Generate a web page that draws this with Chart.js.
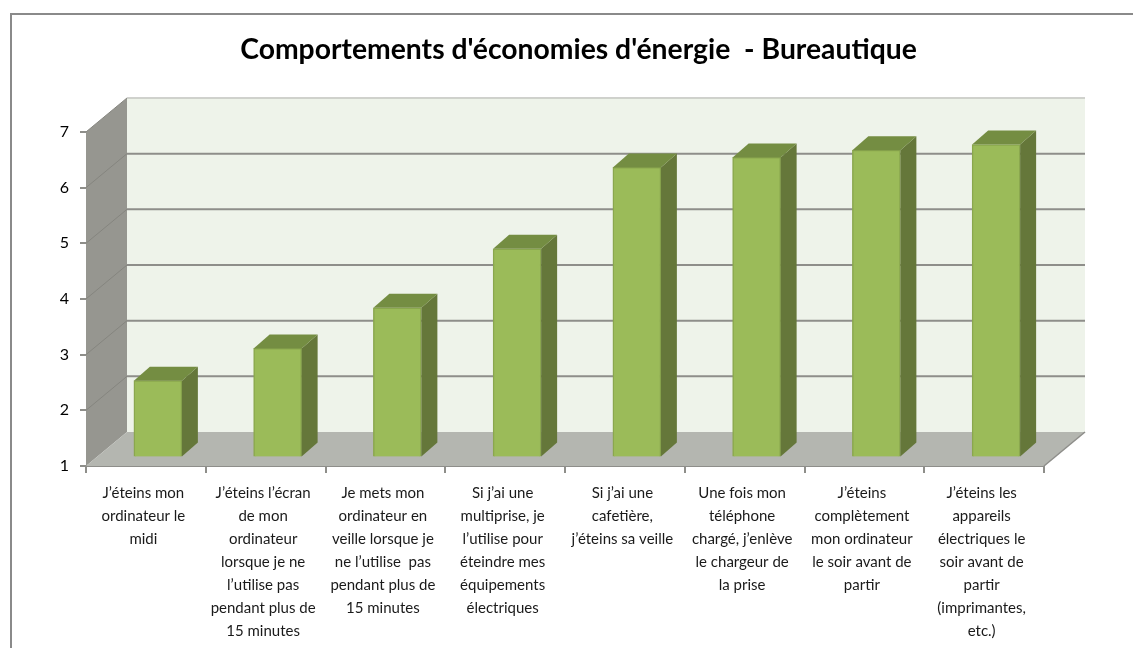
<!DOCTYPE html>
<html><head><meta charset="utf-8">
<style>html,body{margin:0;padding:0;background:#fff}canvas{display:block}</style>
<script src="https://cdn.jsdelivr.net/npm/chart.js@4"></script>
</head><body>
<div style="width:1133px;height:648px;position:relative"><canvas id="c" width="1133" height="648"></canvas></div>
<script>
const titleText = "Comportements d'économies d'énergie  - Bureautique";
const categories = [
 ["J’éteins mon","ordinateur le","midi"],
 ["J’éteins l’écran","de mon","ordinateur","lorsque je ne","l’utilise pas","pendant plus de","15 minutes"],
 ["Je mets mon","ordinateur en","veille lorsque je","ne l’utilise  pas","pendant plus de","15 minutes"],
 ["Si j’ai une","multiprise, je","l’utilise pour","éteindre mes","équipements","électriques"],
 ["Si j’ai une","cafetière,","j’éteins sa veille"],
 ["Une fois mon","téléphone","chargé, j’enlève","le chargeur de","la prise"],
 ["J’éteins","complètement","mon ordinateur","le soir avant de","partir"],
 ["J’éteins les","appareils","électriques le","soir avant de","partir","(imprimantes,","etc.)"]
];
const values = [2.38, 2.96, 3.69, 4.75, 6.21, 6.39, 6.52, 6.62];

const FONT = "Lato, Carlito, sans-serif";
const WALL = {dx:41, dy:-34};
const BAR = {fx:12, fy:-8.5, dx:16, dy:-14};

const scene = {
  id:'scene',
  beforeDraw(chart){
    const c=chart.ctx;
    c.save();
    c.strokeStyle='#8a8a8a'; c.lineWidth=2;
    c.beginPath(); c.moveTo(11,648); c.lineTo(11,14); c.lineTo(1133,14); c.stroke();
    c.restore();
  },
  beforeDatasetsDraw(chart){
    const c=chart.ctx, a=chart.chartArea, y=chart.scales.y;
    const l=a.left,r=a.right,t=a.top,b=a.bottom,dx=WALL.dx,dy=WALL.dy;
    c.save();
    c.fillStyle='#eef3ea';
    c.fillRect(l+dx,t+dy,r-l,b-t);
    c.fillStyle='#969690';
    c.beginPath();c.moveTo(l,t);c.lineTo(l+dx,t+dy);c.lineTo(l+dx,b+dy);c.lineTo(l,b);c.closePath();c.fill();
    c.fillStyle='#b4b6b0';
    c.beginPath();c.moveTo(l,b);c.lineTo(l+dx,b+dy);c.lineTo(r+dx,b+dy);c.lineTo(r,b);c.closePath();c.fill();
    y.ticks.forEach(tk=>{
      const p=y.getPixelForValue(tk.value);
      if(tk.value>1){
        c.strokeStyle='#85857f';c.lineWidth=1;
        c.beginPath();c.moveTo(l,p);c.lineTo(l+dx,p+dy);c.stroke();
        c.strokeStyle=tk.value===7?'#a9aba5':'#8e8e8a';c.lineWidth=tk.value===7?1:2;
        c.beginPath();c.moveTo(l+dx,p+dy);c.lineTo(r+dx,p+dy);c.stroke();
      }
    });
    c.strokeStyle='#8e8e8a';c.lineWidth=1.5;
    c.beginPath();c.moveTo(r,b);c.lineTo(r+dx,b+dy);c.stroke();
    c.restore();
  },
  beforeDatasetDraw(chart){
    chart.ctx.save();
    chart.ctx.translate(BAR.fx,BAR.fy);
  },
  afterDatasetDraw(chart,args){
    const c=chart.ctx;
    args.meta.data.forEach(el=>{
      const x0=el.x-el.width/2,x1=el.x+el.width/2,top=el.y,base=el.base,dx=BAR.dx,dy=BAR.dy;
      c.fillStyle='#65773a';
      c.beginPath();c.moveTo(x1,top);c.lineTo(x1+dx,top+dy);c.lineTo(x1+dx,base+dy);c.lineTo(x1,base);c.closePath();c.fill();
      c.fillStyle='#748d42';
      c.beginPath();c.moveTo(x0,top);c.lineTo(x0+dx,top+dy);c.lineTo(x1+dx,top+dy);c.lineTo(x1,top);c.closePath();c.fill();
    });
    c.restore();
  }
};

new Chart(document.getElementById('c'),{
  type:'bar',
  data:{labels:categories,datasets:[{data:values,base:1,backgroundColor:'#9bbb59',borderColor:'#8aa74e',borderWidth:1.5,barThickness:48,clip:false}]},
  plugins:[scene],
  options:{
    responsive:false,animation:false,
    layout:{padding:{left:24,right:0,top:33,bottom:0}},
    plugins:{
      legend:{display:false},tooltip:{enabled:false},
      title:{display:true,text:titleText,color:'#000',font:{family:FONT,size:28.3,weight:'bold'},padding:{top:0,bottom:65}}
    },
    scales:{
      x:{
        grid:{drawOnChartArea:false,color:'#8e8e8a',lineWidth:2,tickLength:7,offset:true},
        border:{color:'#8e8e8a',width:2},
        ticks:{autoSkip:false,maxRotation:0,minRotation:0,color:'#1a1a1a',padding:9,labelOffset:-2.5,font:{family:FONT,size:15,lineHeight:1.53}},
        afterFit(s){s.height=182;}
      },
      y:{
        min:1,max:7,
        grid:{drawOnChartArea:false,color:'#8e8e8a',lineWidth:2,tickLength:6},
        border:{display:false},
        ticks:{stepSize:1,color:'#000',padding:11,font:{family:FONT,size:16}},
        afterFit(s){s.width=62;}
      },
      y1:{
        position:'right',display:true,
        grid:{display:false},border:{display:false},ticks:{display:false},
        afterFit(s){s.width=89;}
      }
    }
  }
});
</script>
</body></html>
